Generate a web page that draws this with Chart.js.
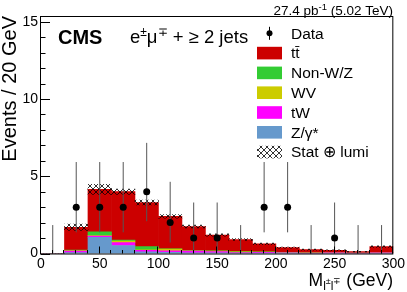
<!DOCTYPE html>
<html><head><meta charset="utf-8">
<script src="https://cdn.jsdelivr.net/npm/chart.js@4/dist/chart.umd.min.js"></script>
<style>html,body{margin:0;padding:0;background:#fff;}#wrap{width:407px;height:292px;}</style>
</head><body><div id="wrap"><canvas id="c" width="407" height="292"></canvas></div>
<script>
// ---- data (20 GeV bins from 0 to 300) ----
const binCenters = [10, 30, 50, 70, 90, 110, 130, 150, 170, 190, 210, 230, 250, 270, 290];
const xTicks = [0, 50, 100, 150, 200, 250, 300];
const yTicks = [0, 5, 10, 15];
const zGamma = [0, 0.06, 1.05, 0.52, 0.10, 0.08, 0.05, 0.05, 0.02, 0.03, 0.02, 0.01, 0.01, 0.00, 0.01];
const tWvals = [0, 0.10, 0.08, 0.18, 0.10, 0.10, 0.10, 0.08, 0.04, 0.05, 0.03, 0.02, 0.03, 0.02, 0.03];
const wvVals = [0, 0.03, 0.03, 0.10, 0.03, 0.10, 0.02, 0.02, 0.05, 0.01, 0.01, 0.01, 0.01, 0.01, 0.01];
const nonWZ  = [0, 0.03, 0.25, 0.07, 0.22, 0.03, 0.02, 0.02, 0.01, 0.01, 0.01, 0.00, 0.00, 0.00, 0.00];
const ttbar  = [0, 1.48, 2.74, 3.13, 2.85, 2.09, 1.56, 1.03, 0.78, 0.52, 0.31, 0.21, 0.15, 0.09, 0.40];
const mcUnc  = [0, 0.20, 0.33, 0.17, 0.16, 0.12, 0.09, 0.08, 0.06, 0.05, 0.04, 0.03, 0.03, 0.02, 0.05];
const dataVals    = [0, 3, 3, 3, 4, 2, 1, 1, 0, 3, 3, 0, 1, 0, 0];
const dataErrUp   = [1.84, 2.92, 2.92, 2.92, 3.16, 2.64, 2.30, 2.30, 1.84, 2.92, 2.92, 1.84, 2.30, 1.84, 1.84];
const dataErrDown = [0, 1.63, 1.63, 1.63, 1.91, 1.29, 0.83, 0.83, 0, 1.63, 1.63, 0, 0.83, 0, 0];

const FONT = "'Liberation Sans', Arial, Helvetica, sans-serif";
const canvas = document.getElementById('c');
const ctx0 = canvas.getContext('2d');

// cross-hatch pattern
function makeHatch() {
  const t = document.createElement('canvas'); t.width = 6; t.height = 6;
  const g = t.getContext('2d');
  g.strokeStyle = '#000'; g.lineWidth = 0.8;
  g.beginPath(); g.moveTo(0, 0); g.lineTo(6, 6); g.moveTo(6, 0); g.lineTo(0, 6); g.stroke();
  return ctx0.createPattern(t, 'repeat');
}
const hatch = makeHatch();

const mcDefs = [
  ['Z/γ*', zGamma, '#6699cc'],
  ['tW', tWvals, '#ff00ff'],
  ['WV', wvVals, '#cccc00'],
  ['Non-W/Z', nonWZ, '#33cc33'],
  ['t' + 't\u0304', ttbar, '#cc0000'],
];
const mcTotal = binCenters.map((_, i) => mcDefs.reduce((s, d) => s + d[1][i], 0));
const xy = arr => arr.map((v, i) => ({x: binCenters[i], y: v}));

const barCommon = {type: 'bar', borderWidth: 0, grouped: false, barPercentage: 1, categoryPercentage: 1};
const datasets = mcDefs.map(([label, arr, col]) => Object.assign({}, barCommon, {
  label, data: xy(arr), backgroundColor: col, stack: 'mc', order: 2
}));
datasets.push(Object.assign({}, barCommon, {
  label: 'Stat ⊕ lumi',
  data: binCenters.map((x, i) => ({x, y: [mcTotal[i] - mcUnc[i], mcTotal[i] + mcUnc[i]]})),
  backgroundColor: hatch, stack: 'band', order: 1
}));
const DATA_INDEX = datasets.length;
datasets.push({
  type: 'line', label: 'Data', data: xy(dataVals), showLine: false,
  pointRadius: c => (dataVals[c.dataIndex] > 0 ? 3.5 : 0), pointBackgroundColor: '#000',
  pointBorderWidth: 0, order: 0
});

const decor = {
  id: 'decor',
  beforeDatasetDraw(chart, args) {
    if (args.index !== DATA_INDEX) return;
    const c = chart.ctx, xs = chart.scales.x, ys = chart.scales.y;
    c.save(); c.strokeStyle = '#555'; c.lineWidth = 1;
    c.beginPath();
    binCenters.forEach((bc, i) => {
      const px = xs.getPixelForValue(bc);
      c.moveTo(px, ys.getPixelForValue(dataVals[i] - dataErrDown[i]));
      c.lineTo(px, ys.getPixelForValue(dataVals[i] + dataErrUp[i]));
    });
    c.stroke(); c.restore();
  },
  afterDraw(chart) {
    const c = chart.ctx, a = chart.chartArea, xs = chart.scales.x, ys = chart.scales.y;
    c.save();
    // frame
    c.strokeStyle = '#000'; c.lineWidth = 1;
    c.strokeRect(a.left - 0.5, a.top + 0.5, a.right - a.left, a.bottom - a.top);
    // y ticks (inside)
    c.beginPath();
    for (let v = 0; v <= 15; v++) {
      const py = Math.round(ys.getPixelForValue(v)) + 0.5;
      const len = (v % 5 === 0) ? 9 : 4.5;
      c.moveTo(a.left, py); c.lineTo(a.left + len, py);
    }
    // x ticks (inside)
    for (let v = 0; v <= 300; v += 10) {
      const px = Math.round(xs.getPixelForValue(v)) - 0.5;
      const len = (v % 50 === 0) ? 7 : 3.5;
      c.moveTo(px, a.bottom); c.lineTo(px, a.bottom - len);
    }
    c.stroke();

    c.fillStyle = '#000';
    c.textBaseline = 'alphabetic';
    // top-right luminosity text
    const parts = [['27.4 pb', 13.5, 0], ['-1', 9.5, -5], [' (5.02 TeV)', 13.5, 0]];
    let w = 0;
    parts.forEach(p => { c.font = p[1] + 'px ' + FONT; w += c.measureText(p[0]).width; });
    let x = 393 - w;
    c.textAlign = 'left';
    parts.forEach(p => { c.font = p[1] + 'px ' + FONT; c.fillText(p[0], x, 14.5 + p[2]); x += c.measureText(p[0]).width; });

    // CMS label
    c.font = 'bold 20px ' + FONT;
    c.fillText('CMS', 58, 43.5);
    // channel label
    const ch = [['e', 18.5, 0], ['±', 12, -7], ['μ', 18.5, 0], ['∓', 12, -7], [' + ≥ 2 jets', 18.5, 0]];
    x = 130;
    ch.forEach(p => { c.font = p[1] + 'px ' + FONT; c.fillText(p[0], x, 43 + p[2]); x += c.measureText(p[0]).width; });

    // x-axis title
    const xt = [['M', 17.5, 0], ['l', 12, 4], ['±', 9, -2], ['l', 12, 4], ['∓', 9, -2], [' (GeV)', 17.5, 0]];
    w = 0;
    xt.forEach(p => { c.font = p[1] + 'px ' + FONT; w += c.measureText(p[0]).width; });
    x = 393 - w;
    xt.forEach(p => { c.font = p[1] + 'px ' + FONT; c.fillText(p[0], x, 285.5 + p[2]); x += c.measureText(p[0]).width; });

    // legend
    const rows = [{label: 'Data', kind: 'data'}];
    for (let k = mcDefs.length - 1; k >= 0; k--) rows.push({label: mcDefs[k][0], fill: mcDefs[k][2]});
    rows.push({label: 'Stat ⊕ lumi', fill: hatch});
    c.font = '15.5px ' + FONT;
    c.textBaseline = 'middle';
    rows.forEach((r, k) => {
      const cy = 33.3 + k * 19.8;
      if (r.kind === 'data') {
        c.strokeStyle = '#000'; c.lineWidth = 1;
        c.beginPath(); c.moveTo(269.5, cy - 6.5); c.lineTo(269.5, cy + 6.5); c.stroke();
        c.beginPath(); c.arc(269.5, cy, 3, 0, Math.PI * 2); c.fill();
      } else {
        c.fillStyle = r.fill;
        c.fillRect(257, cy - 6.3, 25, 12.6);
        c.fillStyle = '#000';
      }
      c.fillText(r.label, 291, cy + 1);
    });
    c.restore();
  }
};

new Chart(canvas, {
  type: 'bar',
  data: {datasets},
  options: {
    responsive: false, animation: false, devicePixelRatio: 1,
    layout: {padding: {left: 0, right: 13, top: 16, bottom: 0}},
    plugins: {legend: {display: false}, tooltip: {enabled: false}},
    scales: {
      x: {
        type: 'linear', min: 0, max: 300, offset: false,
        grid: {display: false, drawTicks: false}, border: {display: false},
        ticks: {font: {size: 14, family: FONT}, color: '#000', padding: 2, maxRotation: 0, autoSkip: false, includeBounds: false},
        afterBuildTicks: s => { s.ticks = xTicks.map(v => ({value: v})); },
        afterFit: s => { s.height = 38.5; }
      },
      y: {
        min: 0, max: 15.37, stacked: true,
        grid: {display: false, drawTicks: false}, border: {display: false},
        ticks: {font: {size: 14, family: FONT}, color: '#000', padding: 3, includeBounds: false},
        afterBuildTicks: s => { s.ticks = yTicks.map(v => ({value: v})); },
        afterFit: s => { s.width = 41; },
        title: {display: true, text: 'Events / 20 GeV', align: 'end', color: '#000',
                font: {size: 20, family: FONT, lineHeight: 1.0}, padding: {top: 0, bottom: 0}}
      }
    }
  },
  plugins: [decor]
});
</script></body></html>
